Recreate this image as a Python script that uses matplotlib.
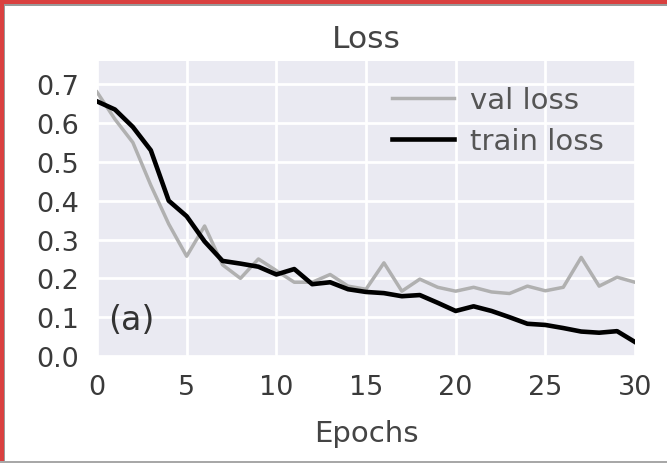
import matplotlib
matplotlib.use("Agg")
from matplotlib import pyplot as plt
from matplotlib.patches import Rectangle

epochs = list(range(31))
train_loss = [0.656, 0.635, 0.59, 0.53, 0.40, 0.36, 0.295, 0.245, 0.238, 0.23,
              0.21, 0.224, 0.185, 0.19, 0.172, 0.165, 0.162, 0.154, 0.157, 0.137,
              0.116, 0.128, 0.116, 0.10, 0.083, 0.08, 0.072, 0.063, 0.06, 0.064,
              0.036]
val_loss = [0.68, 0.61, 0.55, 0.44, 0.34, 0.257, 0.335, 0.235, 0.20, 0.25,
            0.22, 0.19, 0.19, 0.21, 0.18, 0.172, 0.24, 0.167, 0.198, 0.177,
            0.167, 0.177, 0.165, 0.161, 0.18, 0.168, 0.177, 0.254, 0.18, 0.203,
            0.19]
x_ticks = [0, 5, 10, 15, 20, 25, 30]
y_ticks = [0.0, 0.1, 0.2, 0.3, 0.4, 0.5, 0.6, 0.7]

W, H = 667, 464
fig = plt.figure(figsize=(W / 100, H / 100), dpi=100)
fig.patch.set_facecolor("white")

# screenshot frame: red edge with a thin grey line
def px_rect(x0, y0, w, h, color):
    fig.patches.append(Rectangle((x0 / W, 1 - (y0 + h) / H), w / W, h / H,
                                 transform=fig.transFigure, color=color,
                                 lw=0, zorder=10))

px_rect(0, 0, W, 4.5, "#d9403f")
px_rect(0, 4.5, W, 2, "#9a9a9a")
px_rect(0, 0, 3.5, H, "#d9403f")
px_rect(3.5, 4.5, 1.5, H, "#9a9a9a")
px_rect(0, 462, W, 2, "#a8a8a8")

ax = fig.add_axes([97 / W, 1 - 357 / H, (635 - 97) / W, (357 - 62) / H])
ax.set_facecolor("#EAEAF2")
for s in ax.spines.values():
    s.set_visible(False)
ax.grid(True, color="white", linewidth=2.0)
ax.set_axisbelow(True)

ax.plot(epochs, val_loss, color="#b0b0b0", linewidth=2.5, label="val loss")
ax.plot(epochs, train_loss, color="black", linewidth=3.3, label="train loss")

ax.set_xlim(0, 30)
ax.set_ylim(0, 0.76)
ax.set_xticks(x_ticks)
ax.set_yticks(y_ticks)
ax.set_yticklabels([f"{v:.1f}" for v in y_ticks])
ax.tick_params(length=0, labelsize=19.5, colors="#3a3a3a", pad=13)

ax.set_title("Loss", fontsize=22.5, color="#444444", pad=10)
ax.set_xlabel("Epochs", fontsize=21, color="#444444", labelpad=14)
ax.text(0.02, 0.09, "(a)", transform=ax.transAxes, fontsize=24, color="#333333")

leg = ax.legend(loc="upper right", bbox_to_anchor=(0.99, 1.005), frameon=False,
                fontsize=21, handlelength=2.1, handletextpad=0.55,
                labelspacing=0.45)
for t in leg.get_texts():
    t.set_color("#555555")

fig.savefig("out.png", dpi=100)
